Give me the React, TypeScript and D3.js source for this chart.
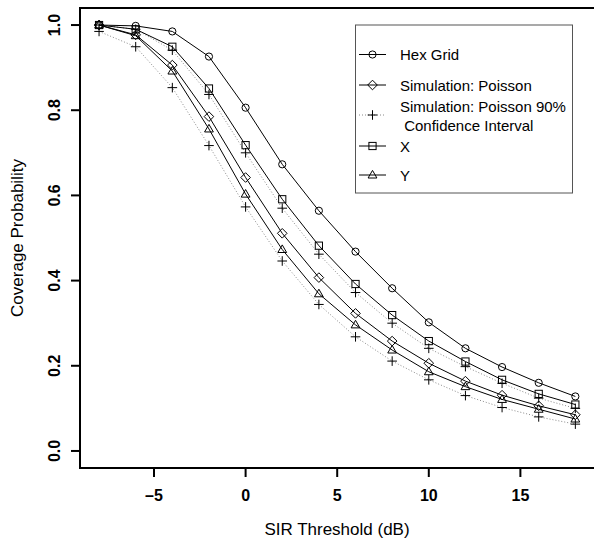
import React from "react";
import * as d3 from "d3";

const thresholds = [-8, -6, -4, -2, 0, 2, 4, 6, 8, 10, 12, 14, 16, 18];
const hexGrid = [1.0, 0.998, 0.985, 0.926, 0.806, 0.673, 0.564, 0.468, 0.382, 0.302, 0.241, 0.197, 0.16, 0.128];
const poisson = [1.0, 0.977, 0.906, 0.785, 0.642, 0.511, 0.407, 0.323, 0.258, 0.206, 0.164, 0.131, 0.106, 0.085];
const ciLower = [0.985, 0.949, 0.853, 0.717, 0.573, 0.446, 0.344, 0.268, 0.211, 0.167, 0.13, 0.102, 0.08, 0.063];
const ciUpper = [1.0, 0.99, 0.941, 0.837, 0.7, 0.57, 0.462, 0.372, 0.3, 0.241, 0.198, 0.159, 0.124, 0.1];
const seriesX = [1.0, 0.99, 0.949, 0.851, 0.718, 0.591, 0.482, 0.392, 0.319, 0.258, 0.21, 0.167, 0.134, 0.109];
const seriesY = [1.0, 0.975, 0.892, 0.756, 0.603, 0.473, 0.369, 0.296, 0.237, 0.186, 0.151, 0.121, 0.098, 0.075];

const xTicks = [-5, 0, 5, 10, 15];
const yTicks = [0, 0.2, 0.4, 0.6, 0.8, 1.0];

const W = 594;
const H = 539;
const FONT = "'Liberation Sans', Arial, Helvetica, sans-serif";

type Shape = "circle" | "diamond" | "plus" | "square" | "triangle";

function Marker({ shape, cx, cy }: { shape: Shape; cx: number; cy: number }) {
  const common = { fill: "none", stroke: "#000", strokeWidth: 1 };
  if (shape === "circle") return <circle cx={cx} cy={cy} r={3.6} {...common} />;
  if (shape === "square") return <rect x={cx - 3.6} y={cy - 3.6} width={7.2} height={7.2} {...common} />;
  if (shape === "diamond")
    return <path d={`M${cx},${cy - 4.8}L${cx + 4.8},${cy}L${cx},${cy + 4.8}L${cx - 4.8},${cy}Z`} {...common} />;
  if (shape === "triangle")
    return <path d={`M${cx},${cy - 4.6}L${cx + 4.4},${cy + 3}L${cx - 4.4},${cy + 3}Z`} {...common} />;
  return <path d={`M${cx - 4.8},${cy}H${cx + 4.8}M${cx},${cy - 4.8}V${cy + 4.8}`} stroke="#000" strokeWidth={1} fill="none" />;
}

export default function App() {
  const x = d3.scaleLinear().domain([-9.04, 19.04]).range([80, 594.4]);
  const y = d3.scaleLinear().domain([-0.04, 1.04]).range([468, 8]);
  const line = d3
    .line<number>()
    .x((_, i) => x(thresholds[i]))
    .y((d) => y(d));

  const series: { values: number[]; shape: Shape; dotted: boolean }[] = [
    { values: hexGrid, shape: "circle", dotted: false },
    { values: ciLower, shape: "plus", dotted: true },
    { values: ciUpper, shape: "plus", dotted: true },
    { values: poisson, shape: "diamond", dotted: false },
    { values: seriesX, shape: "square", dotted: false },
    { values: seriesY, shape: "triangle", dotted: false },
  ];

  const legend: { label: string[]; shape: Shape; dotted: boolean; y: number }[] = [
    { label: ["Hex Grid"], shape: "circle", dotted: false, y: 54.5 },
    { label: ["Simulation: Poisson"], shape: "diamond", dotted: false, y: 85 },
    { label: ["Simulation: Poisson 90%", " Confidence Interval"], shape: "plus", dotted: true, y: 115 },
    { label: ["X"], shape: "square", dotted: false, y: 146 },
    { label: ["Y"], shape: "triangle", dotted: false, y: 175 },
  ];

  return (
    <div style={{ position: "absolute", left: 0, top: 0 }}>
      <svg width={W} height={H} style={{ display: "block", background: "#fff" }} fontFamily={FONT}>
        <rect width={W} height={H} fill="#fff" />
        {series.map((s, si) => (
          <g key={si}>
            <path
              d={line(s.values) || ""}
              fill="none"
              stroke={s.dotted ? "#8a8a8a" : "#000"}
              strokeWidth={1}
              strokeDasharray={s.dotted ? "1,2" : undefined}
            />
            {s.values.map((v, i) => (
              <Marker key={i} shape={s.shape} cx={x(thresholds[i])} cy={y(v)} />
            ))}
          </g>
        ))}
        <path d={`M${W},${y.range()[1]}H${x.range()[0]}V${y.range()[0]}H${W}`} fill="none" stroke="#000" strokeWidth={2} />
        {xTicks.map((t) => (
          <g key={t}>
            <line x1={x(t)} x2={x(t)} y1={468} y2={477} stroke="#000" strokeWidth={2} />
            <text x={x(t)} y={501} textAnchor="middle" fontSize={16} fontWeight="bold">
              {t < 0 ? "\u2013" + Math.abs(t) : String(t)}
            </text>
          </g>
        ))}
        {yTicks.map((t) => (
          <g key={t}>
            <line x1={71} x2={80} y1={y(t)} y2={y(t)} stroke="#000" strokeWidth={2} />
            <text
              transform={`translate(60,${y(t)}) rotate(-90)`}
              textAnchor="middle"
              fontSize={16}
              fontWeight="bold"
            >
              {t.toFixed(1)}
            </text>
          </g>
        ))}
        <text x={337} y={535} textAnchor="middle" fontSize={17}>
          SIR Threshold (dB)
        </text>
        <text transform={`translate(22.5,238) rotate(-90)`} textAnchor="middle" fontSize={17}>
          Coverage Probability
        </text>
        <rect x={355.5} y={25} width={217} height={168} fill="#fff" stroke="#555" strokeWidth={1} />
        {legend.map((l, i) => (
          <g key={i}>
            <line
              x1={359}
              x2={386}
              y1={l.y}
              y2={l.y}
              stroke={l.dotted ? "#8a8a8a" : "#000"}
              strokeWidth={1}
              strokeDasharray={l.dotted ? "1,2" : undefined}
            />
            <Marker shape={l.shape} cx={372.5} cy={l.y} />
            {l.label.length === 1 ? (
              <text x={400} y={l.y + 5.5} fontSize={15}>
                {l.label[0]}
              </text>
            ) : (
              <text x={400} y={l.y - 3} fontSize={15} style={{ whiteSpace: "pre" }}>
                <tspan x={400}>{l.label[0]}</tspan>
                <tspan x={400} dy={19}>{l.label[1]}</tspan>
              </text>
            )}
          </g>
        ))}
      </svg>
    </div>
  );
}
